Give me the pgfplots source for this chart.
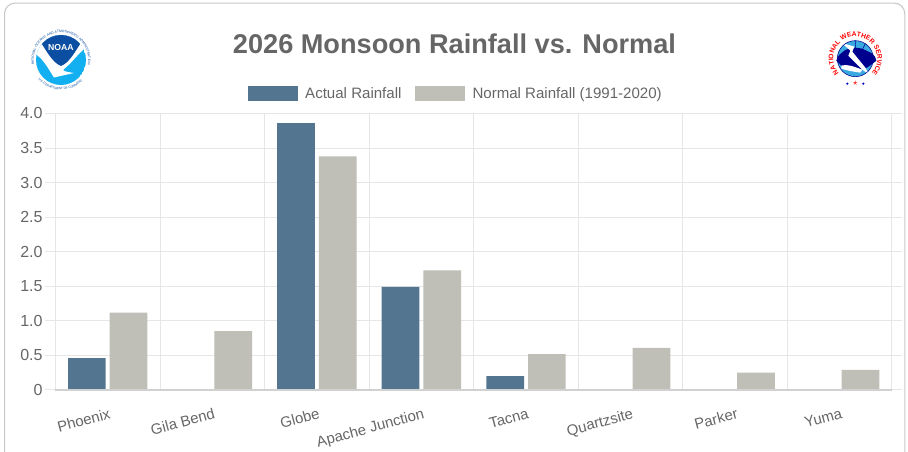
\documentclass[border=0pt]{standalone}
\usepackage{fontspec}
\setmainfont{Liberation Sans}
\usepackage{pgfplots}
\pgfplotsset{compat=1.18}
\usetikzlibrary{decorations.text}
\definecolor{actualc}{HTML}{54758F}
\definecolor{normalc}{HTML}{BFBFB7}
\definecolor{txt}{HTML}{666666}
\definecolor{gridc}{HTML}{E6E6E6}
\definecolor{noaad}{HTML}{0B4EA2}
\definecolor{noaac}{HTML}{12B0F0}
\definecolor{nwsd}{HTML}{00008F}
\definecolor{nwsc}{HTML}{3AA9DF}
\begin{document}
\begin{tikzpicture}[x=1pt,y=1pt]
\path[use as bounding box] (0,0) rectangle (681,339);
% card
\draw[color=black!22,line width=0.8pt,rounded corners=8pt] (3.4,-20) -- (3.4,336.7) -- (678.6,336.7) -- (678.6,-20);
\begin{axis}[
  at={(41.6pt,46.5pt)},anchor=south west,scale only axis,
  width=627.4pt,height=207.4pt,
  xmin=-0.5,xmax=7.5,ymin=0,ymax=4,
  ybar=3pt,bar width=28.3pt,
  axis line style={gridc,line width=0.75pt},
  xtick={0,...,7},
  xticklabels={Phoenix,Gila Bend,Globe,Apache Junction,Tacna,Quartzsite,Parker,Yuma},
  x tick style={draw=none},major x tick style={draw=none},
  xticklabel style={rotate=15,anchor=north east,font=\fontsize{11.2pt}{13pt}\selectfont,text=txt,inner sep=0pt,yshift=-5.75pt,xshift=-0.9pt},
  extra x ticks={-0.5,0.5,1.5,2.5,3.5,4.5,5.5,6.5,7.5},
  extra x tick labels={},
  extra x tick style={grid=major,major tick length=7.5pt,tick align=outside,tick style={draw=gridc,line width=0.75pt},grid style={gridc,line width=0.75pt}},
  ytick={0,0.5,1,1.5,2,2.5,3,3.5,4},
  yticklabels={0,0.5,1.0,1.5,2.0,2.5,3.0,3.5,4.0},
  ymajorgrids,y grid style={gridc,line width=0.75pt},
  tick align=outside,
  y tick style={draw=gridc,line width=0.75pt},major tick length=7.5pt,
  yticklabel style={font=\fontsize{12pt}{14pt}\selectfont,text=txt,inner sep=0pt,xshift=-2pt},
  clip=false,
  legend columns=2,
  legend style={at={(0.4788,1.071)},anchor=center,draw=none,fill=none,font=\fontsize{11.3pt}{14pt}\selectfont,text=txt,inner sep=0pt,/tikz/every even column/.append style={column sep=8pt},/tikz/every odd column/.append style={column sep=3.75pt}},
  legend cell align=left,
  title={\fontsize{20.36pt}{24pt}\selectfont\bfseries\textcolor{txt}{2026 Monsoon Rainfall vs. Normal}},
  title style={at={(0.477,1.2247)},anchor=center,inner sep=0pt},
  area legend,
  legend image code/.code={\path[#1] (0pt,-5.6pt) rectangle (37.5pt,5.6pt);},
]
\addplot[fill=actualc,draw=none] coordinates {(0,0.46)(1,0)(2,3.86)(3,1.49)(4,0.20)(5,0)(6,0)(7,0)};
\addplot[fill=normalc,draw=none] coordinates {(0,1.12)(1,0.85)(2,3.38)(3,1.73)(4,0.52)(5,0.61)(6,0.25)(7,0.29)};
\legend{Actual Rainfall,Normal Rainfall (1991-2020)}
\draw[black!18,line width=0.8pt] (axis cs:-0.5,0) -- (axis cs:7.5,0);
\end{axis}
% NOAA logo
\begin{scope}[shift={(45.75,294)},x=0.75pt,y=0.75pt]
\fill[white] (0,0) circle (30);
\begin{scope}
\clip (0,0) circle (25);
\fill[noaac] (0,0) circle (25);
\fill[white] (-26,26) -- (26,26) -- (26,13) .. controls (18,8) and (12,-2) .. (3,-9) .. controls (0,-11) and (6,-12) .. (13,-13) -- (-7,-17.5) .. controls (-12,-10) and (-18,2) .. (-26,6) -- cycle;
\fill[noaad] (-26,26) -- (-21,19) .. controls (-14,8) and (-8,-3) .. (0,-6) .. controls (8,-3) and (14,8) .. (21,19) -- (26,26) -- cycle;
\end{scope}
\node[text=white,font=\fontsize{6.5pt}{7pt}\selectfont\bfseries,inner sep=0pt] at (0,12.5) {NOAA};
\path[postaction={decorate,decoration={text along path,text align=center,text={|\fontsize{2.5pt}{3pt}\selectfont\color{noaad}|NATIONAL OCEANIC AND ATMOSPHERIC ADMINISTRATION}}}] (-26.5,-6) arc (193:-13:27.2);
\path[postaction={decorate,decoration={text along path,text align=center,text={|\fontsize{2.3pt}{3pt}\selectfont\color{noaad}|U.S. DEPARTMENT OF COMMERCE}}}] (-22,-20) arc (222:318:29.8);
\end{scope}
% NWS logo
\begin{scope}[shift={(641.5,295)},x=0.75pt,y=0.75pt]
\fill[white] (0,0) circle (31);
\fill[nwsc] (0,0) circle (18);
\draw[nwsd,line width=0.4pt] (0,18) -- (0,9) (-10,15) -- (-5,7) (10,15) -- (6,7);
\fill[nwsd] (-19,-2) .. controls (-18,4) and (-14,5) .. (-11,8) .. controls (-4,12) and (4,12) .. (11,8) .. controls (16,6) and (20,4) .. (21,-2) .. controls (15,-7) and (11,-10) .. (7,-11) .. controls (0,-8) and (-8,-7) .. (-14,-7) -- cycle;
\fill[white] (-14,-7) .. controls (-8,-5) and (-2,-8) .. (7,-11) -- (5,-14) .. controls (-2,-13) and (-8,-12) .. (-14,-10) -- cycle;
\fill[white] (-14,16) -- (-1,12) -- (-3,7) -- (10,-9) -- (14,-16) -- (7,-11) -- (-7,3) -- (-5,8) -- cycle;
\draw[nwsd,line width=0.4pt] (0,0) circle (18);
\path[postaction={decorate,decoration={text along path,text align=center,text={|\fontsize{5pt}{6pt}\selectfont\bfseries\color{red}|NATIONAL WEATHER SERVICE}}}] (232.5:22) arc (232.5:-52.5:22);
\node[text=red,font=\fontsize{7pt}{7pt}\selectfont,inner sep=0pt] at (0,-25) {$\star$};
\fill[blue!80!black] (-8,-25) circle (1.2) (8,-25) circle (1.2);
\end{scope}
\end{tikzpicture}
\end{document}
